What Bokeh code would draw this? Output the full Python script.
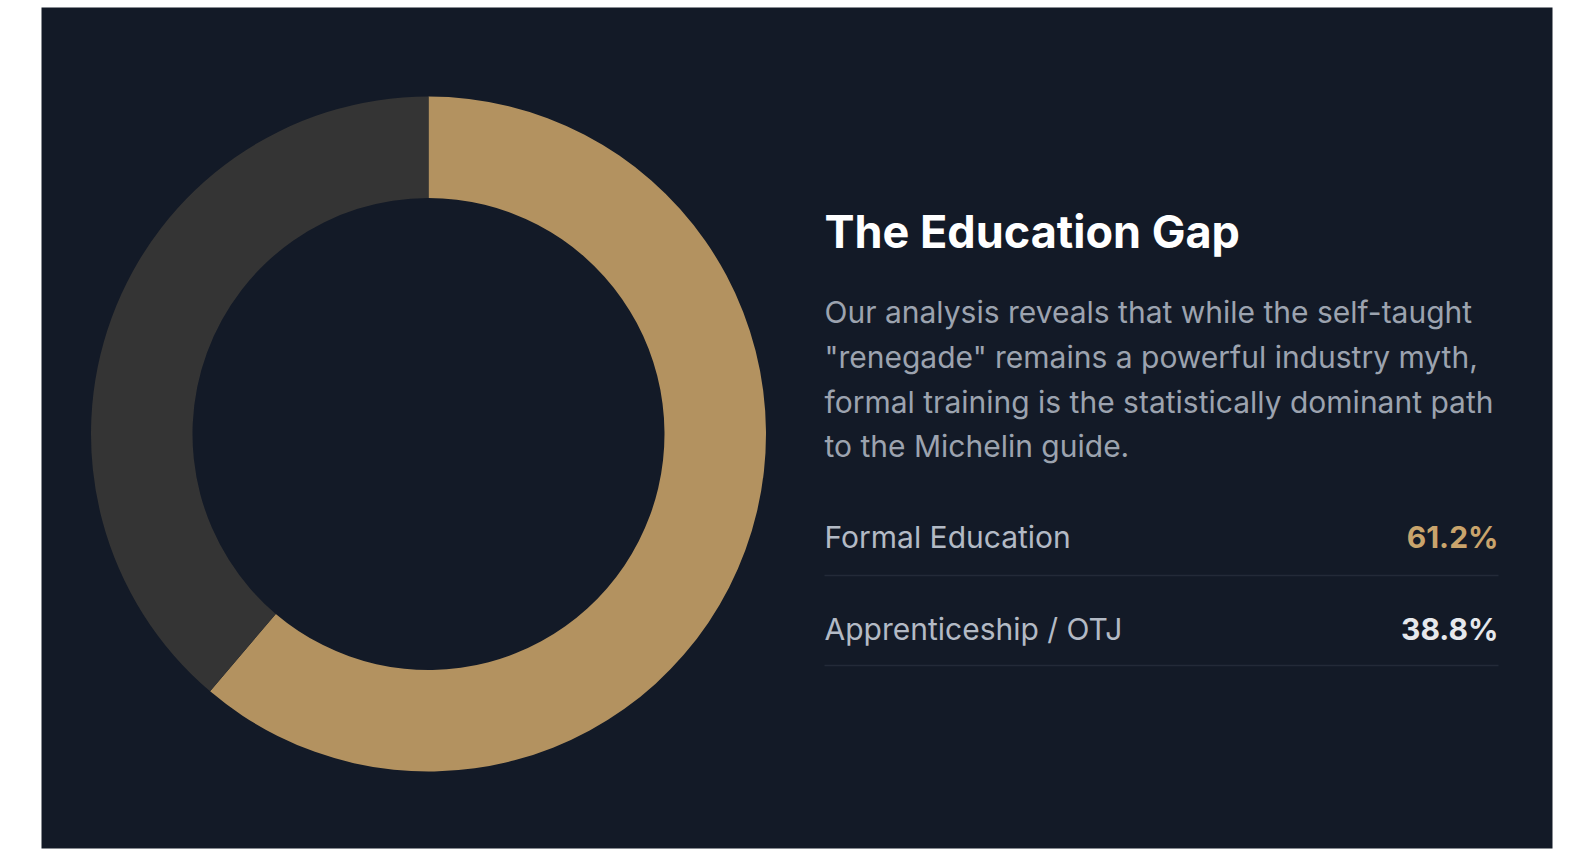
import numpy as np
from bokeh.plotting import figure
from bokeh.models import ColumnDataSource, Range1d
from bokeh.core.properties import value
from bokeh.embed import file_html
from bokeh.resources import INLINE

# data
categories = ["Formal Education", "Apprenticeship / OTJ"]
shares = [61.2, 38.8]
slice_colors = ["#b39260", "#343434"]
value_colors = ["#c9a46c", "#e6e8ec"]

title_text = "The Education Gap"
body_lines = [
    "Our analysis reveals that while the self-taught",
    "\"renegade\" remains a powerful industry myth,",
    "formal training is the statistically dominant path",
    "to the Michelin guide.",
]

PANEL = "#131a27"
W, H = 1511, 841  # plot frame in pixels == data units

frac = np.array(shares) / sum(shares)
ends = np.cumsum(frac)
starts = ends - frac
src = ColumnDataSource(dict(
    cat=categories,
    start=np.pi / 2 - starts * 2 * np.pi,
    end=np.pi / 2 - ends * 2 * np.pi,
    color=slice_colors,
))

p = figure(width=W + 41 + 20, height=H + 7 + 6, output_backend="svg", toolbar_location=None,
           x_range=Range1d(0, W), y_range=Range1d(0, H),
           min_border_left=41, min_border_right=20, min_border_top=7, min_border_bottom=6)
p.axis.visible = False
p.grid.visible = False
p.outline_line_color = None
p.background_fill_color = PANEL
p.border_fill_color = "white"

cx, cy = 387, 414.5
p.annular_wedge(x=cx, y=cy, inner_radius=236, outer_radius=337.5,
                start_angle="start", end_angle="end", direction="clock",
                fill_color="color", line_color=None, source=src)

left = 783
right = 1457
p.text(x=[left], y=[617], text=[title_text], text_font=value("Inter"), text_font_style="bold",
       text_font_size="45px", text_color="#ffffff", text_baseline="alphabetic")

body_y = [536.5 - 44.8 * i for i in range(len(body_lines))]
p.text(x=[left] * len(body_lines), y=body_y, text=body_lines, text_font=value("Inter"),
       text_font_size="30px", text_color="#9ca3af", text_baseline="alphabetic")

row_y = [312, 220]
sep_y = [273, 183]
labels_src = ColumnDataSource(dict(
    x=[left] * len(categories), xr=[right] * len(categories), y=row_y,
    label=categories, val=["%.1f%%" % s for s in shares], vcolor=value_colors,
))
p.text(x="x", y="y", text="label", source=labels_src, text_font=value("Inter"),
       text_font_size="30px", text_color="#b3bac5", text_baseline="alphabetic")
p.text(x="xr", y="y", text="val", source=labels_src, text_font=value("Inter"),
       text_font_style="bold", text_font_size="30px", text_color="vcolor",
       text_align="right", text_baseline="alphabetic")
p.segment(x0=[left] * 2, x1=[right] * 2, y0=sep_y, y1=sep_y, line_color="#232a38", line_width=1.5)

open("out.html", "w").write(file_html(p, INLINE))
